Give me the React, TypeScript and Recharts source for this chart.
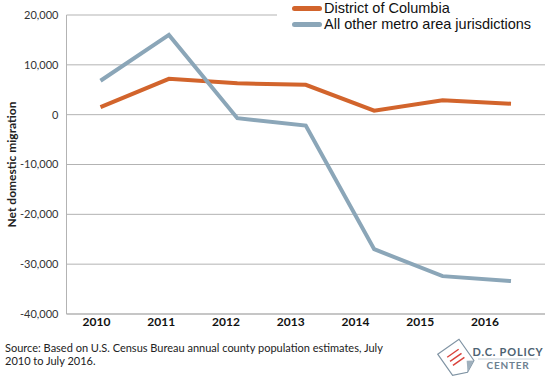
import { LineChart, Line, XAxis, YAxis, CartesianGrid, Label } from "recharts";

const years = ["2010", "2011", "2012", "2013", "2014", "2015", "2016"];
const dcValues = [1500, 7200, 6300, 6000, 800, 2900, 2200];
const otherValues = [6800, 16000, -700, -2200, -27000, -32400, -33400];
const yTicks = [-40000, -30000, -20000, -10000, 0, 10000, 20000];

const seriesNames = ["District of Columbia", "All other metro area jurisdictions"];
const seriesColors = ["#d2642c", "#8ba6b8"];

const data = years.map((year, i) => ({
  year,
  dc: dcValues[i],
  other: otherValues[i],
}));

const fmt = (v: number) => v.toLocaleString("en-US");

function LegendBox() {
  return (
    <div style={{ position: "absolute", left: 277, top: 0, background: "#fff", width: 273, height: 34, paddingLeft: 15, boxSizing: "border-box" }}>
      {seriesNames.map((name, i) => (
        <div key={name} style={{ display: "flex", alignItems: "center", height: 16 }}>
          <span
            style={{
              display: "inline-block",
              width: 30,
              height: 5,
              borderRadius: 3,
              background: seriesColors[i],
              marginRight: 2,
            }}
          />
          <span style={{ fontFamily: "'Liberation Sans', Arial, sans-serif", fontSize: 14.5, color: "#111" }}>
            {name}
          </span>
        </div>
      ))}
    </div>
  );
}

export default function App() {
  return (
    <div style={{ position: "absolute", left: 0, top: 0, width: 550, height: 378, background: "#fff", overflow: "hidden" }}>
      <LineChart width={550} height={378} data={data} margin={{ top: 15, right: 5, bottom: 0, left: 0 }}>
        <CartesianGrid vertical={false} stroke="#b3b3b3" />
        <XAxis xAxisId="pts" dataKey="year" hide padding={{ left: 34, right: 34 }} />
        <XAxis
          xAxisId="lbl"
          dataKey="year"
          height={64}
          padding={{ left: 30, right: 60 }}
          axisLine={{ stroke: "#b3b3b3" }}
          tickLine={false}
          tickSize={0}
          tickMargin={3}
          tick={{ fill: "#111", fontSize: 12, fontWeight: 700, fontFamily: "Lato, sans-serif" }}
        />
        <YAxis
          width={66.5}
          domain={[-40000, 20000]}
          ticks={yTicks}
          tickFormatter={fmt}
          axisLine={{ stroke: "#b3b3b3" }}
          tickLine={false}
          tick={{ fill: "#333", fontSize: 11, fontFamily: "Lato, sans-serif" }}
        >
          <Label
            content={({ viewBox }: any) => {
              const cy = viewBox.y + viewBox.height / 2;
              return (
                <text
                  x={11}
                  y={cy}
                  transform={`rotate(-90 11 ${cy})`}
                  textAnchor="middle"
                  dominantBaseline="central"
                  fontSize={12}
                  fontWeight={700}
                  fontFamily="Lato, sans-serif"
                  fill="#222"
                >
                  Net domestic migration
                </text>
              );
            }}
          />
        </YAxis>
        <Line
          xAxisId="pts"
          dataKey="dc"
          name={seriesNames[0]}
          stroke={seriesColors[0]}
          strokeWidth={4}
          dot={false}
          isAnimationActive={false}
        />
        <Line
          xAxisId="pts"
          dataKey="other"
          name={seriesNames[1]}
          stroke={seriesColors[1]}
          strokeWidth={4}
          dot={false}
          isAnimationActive={false}
        />
      </LineChart>
      <LegendBox />
      <div
        style={{
          position: "absolute",
          left: 5,
          top: 341,
          width: 400,
          fontFamily: "Lato, sans-serif",
          fontSize: 11,
          lineHeight: "13px",
          color: "#222",
        }}
      >
        Source: Based on U.S. Census Bureau annual county population estimates, July
        <br />
        2010 to July 2016.
      </div>
      <svg style={{ position: "absolute", left: 415, top: 335 }} width={135} height={43}>
        <g transform="translate(18 0) rotate(-35 25 22)">
          <polygon points="10,8 36,8 36,34 24,40 10,34" fill="#fff" stroke="#7f93a3" strokeWidth={1.2} />
          <polygon points="36,34 24,40 30,30" fill="#9fb0bd" />
          <line x1={16} y1={16} x2={30} y2={16} stroke="#d9413a" strokeWidth={1.4} />
          <line x1={16} y1={21} x2={30} y2={21} stroke="#d9413a" strokeWidth={1.4} />
          <line x1={16} y1={26} x2={30} y2={26} stroke="#d9413a" strokeWidth={1.4} />
        </g>
        <text x={93} y={21} textAnchor="middle" fontSize={11} fontWeight={700} letterSpacing={0.8} fontFamily="Lato, sans-serif" fill="#4d6272">
          D.C. POLICY
        </text>
        <line x1={63} y1={24} x2={123} y2={24} stroke="#c5d0d8" strokeWidth={1} />
        <text x={93} y={34} textAnchor="middle" fontSize={10} fontWeight={700} letterSpacing={0.8} fontFamily="Lato, sans-serif" fill="#6d8090">
          CENTER
        </text>
      </svg>
    </div>
  );
}
